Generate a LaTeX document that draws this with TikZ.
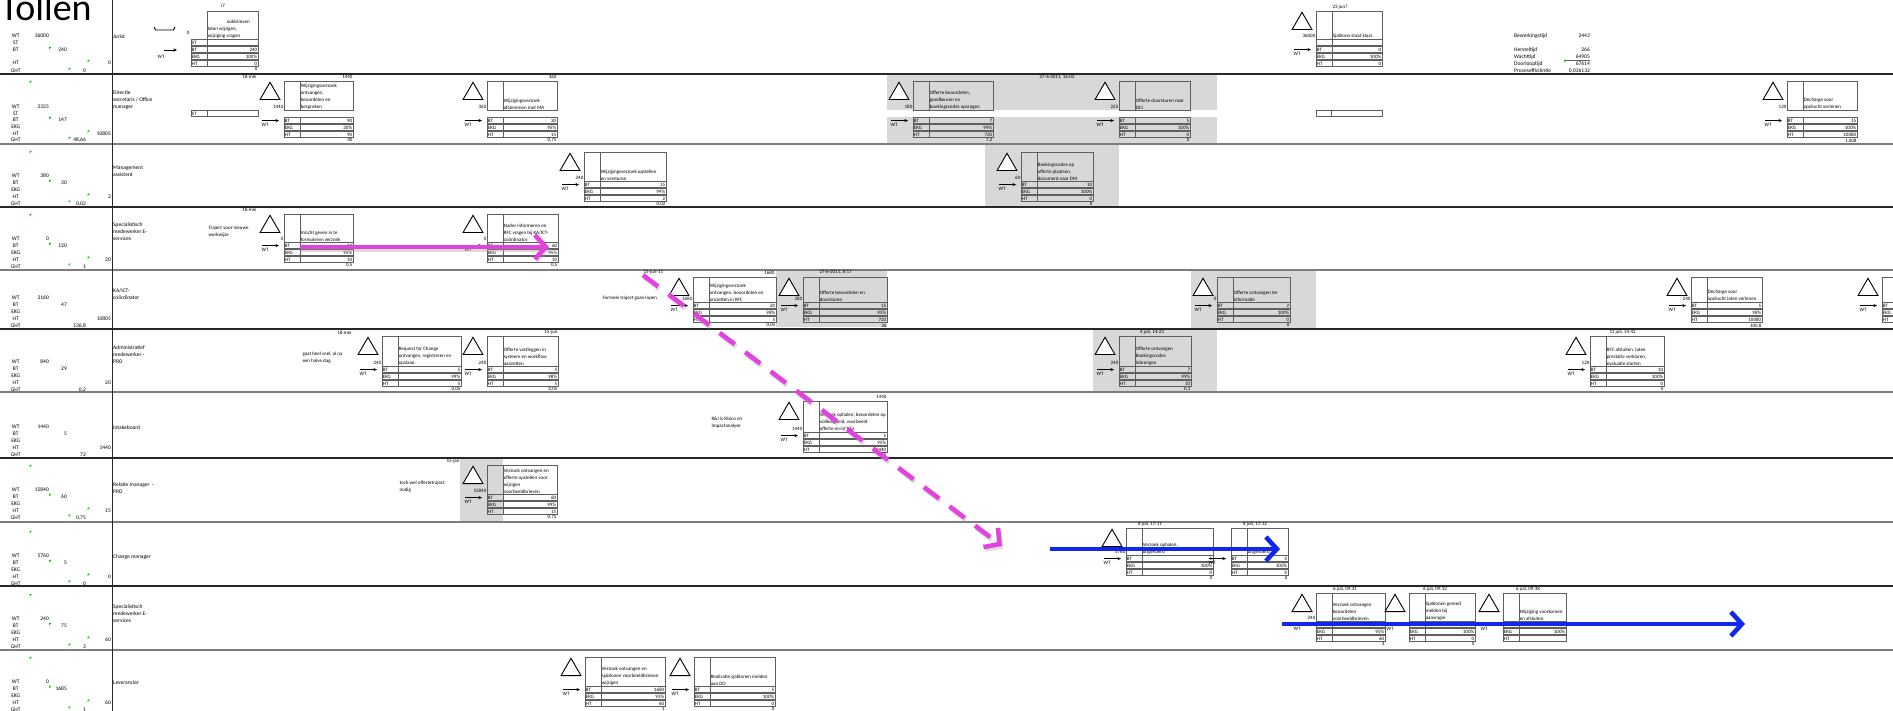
\documentclass[tikz,border=0pt]{standalone}
\usepackage{fontspec}
\setmainfont{Carlito}
\usetikzlibrary{arrows.meta,calc,shapes.geometric}

\definecolor{lanedark}{RGB}{40,40,40}
\definecolor{lanegrey}{RGB}{125,125,125}
\definecolor{cellgrey}{RGB}{216,216,216}
\definecolor{boxline}{RGB}{95,95,95}
\definecolor{xlgreen}{RGB}{20,170,20}
\definecolor{pinkarrow}{RGB}{226,66,222}
\definecolor{bluearrow}{RGB}{16,40,238}

\tikzset{
  lanedk/.style={draw=lanedark, line width=1.5pt},
  lanegr/.style={draw=lanegrey, line width=1.7pt},
  cellframe/.style={draw=boxline, line width=0.6pt},
  tinytxt/.style={font=\fontsize{5}{7}\selectfont, inner sep=0.3pt, align=left},
  lcol/.style={font=\fontsize{5.5}{7}\selectfont, inner sep=0pt, align=left},
  inv/.style={regular polygon, regular polygon sides=3, draw=black, line width=0.9pt,
    fill=white, minimum size=23pt, inner sep=0pt},
  wtarrow/.style={-{Stealth[length=3.6pt,width=3.2pt]}, line width=0.6pt},
  bigarrow/.style={line width=4.6pt, -{Straight Barb[length=11pt,width=24pt]}},
  shadowed/.style={draw=black!40, opacity=0.35, transform canvas={shift={(1.2,2.4)}}}
}

% settings for a process block
\def\blkdh{29}\def\blkgap{0}\def\blkst{0}\def\blkstlab{ST}\def\blkinv{1}
\def\blkparse#1,#2\relax{\def\bx{#1}\def\by{#2}}

% one table row of a block: name, label, value, top
\newcommand\blkrow[4]{%
  \draw[cellframe] (\bx,#4+0.4) rectangle (\bxr,#4+6.6);
  \draw[cellframe] (\bxd,#4+0.4) -- (\bxd,#4+6.6);
  \node[tinytxt, anchor=west] (#1) at (\bx+0.4,#4+3.6) {#2};
  \node[tinytxt, anchor=east] (#1v) at (\bxr-0.4,#4+3.6) {#3};
}

% [width] name, {x,y}, text, BT, EKG, HT, below, stock
\newcommand\blk[9][70]{%
  \blkparse#3\relax
  \pgfmathsetmacro\bxr{\bx+#1}\pgfmathsetmacro\bxd{\bx+16}%
  \pgfmathsetmacro\byd{\by+\blkdh}\pgfmathsetmacro\byt{\byd+\blkgap}%
  \draw[cellframe] (\bx,\by) rectangle (\bxr,\byd);
  \draw[cellframe] (\bxd,\by) -- (\bxd,\byd);
  \node[tinytxt, anchor=south west] (#2) at (\bxd+0.3,\byd-0.3) {#4};
  \ifnum\blkinv=1 \node[inv, anchor=south] (#2-i) at (\bx-14,\by+19) {};\fi
  \node[tinytxt, anchor=south east] (#2-n) at (\bx-0.2,\byd-0.6) {#9};
  \ifnum\blkst=1
    \blkrow{#2-st}{\blkstlab}{}{\byt}%
    \pgfmathsetmacro\byt{\byt+7}%
  \fi
  \blkrow{#2-bt}{BT}{#5}{\byt}%
  \pgfmathsetmacro\byr{\byt+7}\blkrow{#2-ekg}{EKG}{#6}{\byr}%
  \pgfmathsetmacro\byr{\byt+14}\blkrow{#2-ht}{HT}{#7}{\byr}%
  \node[tinytxt, anchor=north east] (#2-b) at (\bxr,\byt+21.2) {#8};
  \coordinate (#2-wa) at (\bx-22,\byt+3.6);
  \coordinate (#2-wb) at (\bx-5,\byt+3.6);
  \draw[wtarrow] (#2-wa) -- (#2-wb);
  \node[tinytxt, anchor=north] (#2-w) at (\bx-19,\byt+5.6) {WT};
}

% left column figures
\newcounter{lvc}
\def\xrWT{49}\def\xrST{49}\def\xrBT{67}\def\xrEKG{67}\def\xrHT{111}\def\xrGHT{86}
\newcommand\lv[3]{\stepcounter{lvc}%
  \node[lcol] (lk\arabic{lvc}) at (15.7,#1) {#2};
  \node[lcol, anchor=east] (lw\arabic{lvc}) at (\csname xr#2\endcsname,#1) {#3};}
\newcommand\gm[2]{\fill[xlgreen] (#1,#2) -- ++(2.4,0) -- ++(-2.4,2.4) -- cycle;}
\newcommand\lanevals[6]{%
  \lv{#1}{WT}{#2}\lv{#1+6.9}{BT}{#3}\lv{#1+13.8}{EKG}{}\lv{#1+20.7}{HT}{#4}\lv{#1+27.6}{GHT}{#5}%
  \ifnum#6=1 \gm{29.5}{#1-25}\gm{49}{#1+3.9}\gm{87.5}{#1+17.7}\gm{68.5}{#1+24.6}\fi}

\begin{document}
\begin{tikzpicture}[x=1pt,y=-1pt]
  \useasboundingbox (0,0) rectangle (1893,711);
  \clip (0,0) rectangle (1893,711);
  \fill[white] (0,0) rectangle (1893,711);

  % grey cells
  \fill[cellgrey] (887,75) rectangle (1217,110);
  \fill[cellgrey] (887,117) rectangle (1217,144);
  \fill[cellgrey] (985,145) rectangle (1119,207);
  \fill[cellgrey] (776,271) rectangle (887,327);
  \fill[cellgrey] (1191,271) rectangle (1316,328);
  \fill[cellgrey] (1093,330) rectangle (1217,392);
  \fill[cellgrey] (460,459) rectangle (503,522);

  % swimlanes
  \draw[lanedk] (0,74) -- (1893,74);
  \draw[lanegr] (0,144) -- (1893,144);
  \draw[lanedk] (0,207) -- (1893,207);
  \draw[lanegr] (0,270) -- (1893,270);
  \draw[lanedk] (0,329) -- (1893,329);
  \draw[lanegr] (0,392) -- (1893,392);
  \draw[lanedk] (0,458) -- (1893,458);
  \draw[lanegr] (0,522) -- (1893,522);
  \draw[lanedk] (0,586) -- (1893,586);
  \draw[lanegr] (0,650) -- (1893,650);
  \draw[draw=lanedark, line width=0.8pt] (112,0) -- (112,711);

  \node[font=\fontsize{38}{38}\selectfont, anchor=base west, inner sep=0pt] (title) at (0,21) {Tollen};

  % lane names
  \node[lcol, anchor=north west] (lane1) at (113,34.2) {Jurist};
  \node[lcol, anchor=north west] (lane2) at (113,90.2) {Directie\\secretaris / Office\\manager};
  \node[lcol, anchor=north west] (lane3) at (113,166.2) {Management\\assistent};
  \node[lcol, anchor=north west] (lane4) at (113,222.2) {Specialistisch\\medewerker E-\\services};
  \node[lcol, anchor=north west] (lane5) at (113,288.2) {KA/ICT-\\coördinator};
  \node[lcol, anchor=north west] (lane6) at (113,345.2) {Administratief\\medewerker -\\PRO};
  \node[lcol, anchor=north west] (lane7) at (113,425.2) {Intakeboard};
  \node[lcol, anchor=north west] (lane8) at (113,482.2) {Relatie manager \ -\\PRO};
  \node[lcol, anchor=north west] (lane9) at (113,554.2) {Change manager};
  \node[lcol, anchor=north west] (lane10) at (113,604.2) {Specialistisch\\medewerker E-\\services};
  \node[lcol, anchor=north west] (lane11) at (113,680.2) {Leverancier};

  % left column
  \lv{36}{WT}{36000}\lv{43}{ST}{}\lv{50}{BT}{240}\lv{63}{HT}{0}\lv{71}{GHT}{0}
  \gm{49}{47}\gm{87.5}{60}\gm{68.5}{68}
  \lv{107}{WT}{2325}\lv{113.5}{ST}{}\lv{120}{BT}{147}\lv{127}{EKG}{}\lv{133.5}{HT}{10805}\lv{140}{GHT}{48,66}
  \gm{29.5}{81}\gm{49}{117}\gm{87.5}{130.5}\gm{68.5}{137}
  \lanevals{176}{380}{30}{2}{0,02}{1}
  \lanevals{239}{0}{120}{20}{1}{1}
  \lanevals{298}{2160}{47}{10805}{136,8}{0}
  \lanevals{362}{840}{29}{20}{0,2}{0}
  \lanevals{427}{1440}{5}{1440}{72}{0}
  \lanevals{490}{15840}{60}{15}{0,75}{1}
  \lanevals{556}{5760}{5}{0}{0}{1}
  \lanevals{619}{240}{75}{60}{3}{1}
  \lanevals{682}{0}{1685}{60}{1}{1}

  % ---- lane 1: Jurist
  \draw[cellframe] (207,11) rectangle (258,39);
  \node[tinytxt, anchor=south west] (jur) at (207.3,38.7) {\hspace*{19pt}ookbrieven\\laten wijzigen,\\wijziging vragen};
  \node[tinytxt, anchor=south] (jur-top) at (223,8) {i7};
  \node[tinytxt, anchor=south east] (jur-n) at (190,35) {0};
  \draw[black, line width=0.9pt] (154,27) -- (155.5,30) -- (173.5,30) -- (175,27);
  \def\bx{191}\def\bxd{207}\def\bxr{258}
  \blkrow{jur-st}{ST}{}{39}\blkrow{jur-bt}{BT}{240}{46}\blkrow{jur-ekg}{EKG}{100\%}{53}\blkrow{jur-ht}{HT}{0}{60}
  \node[tinytxt, anchor=north east] (jur-b) at (258,67.2) {0};
  \coordinate (jur-wa) at (164,50); \coordinate (jur-wb) at (177,50);
  \draw[wtarrow] (jur-wa) -- (jur-wb);
  \node[tinytxt] (jur-w) at (161,57) {WT};

  \def\blkdh{28}\def\blkst{1}\def\blkstlab{}
  \blk[66]{sjab}{1316,11}{Sjabloon staat klaar}{0}{100\%}{0}{}{36000}
  \node[tinytxt, anchor=south west] (sjab-top) at (1332,9.5) {23 jun?};

  % result figures
  \node[lcol, anchor=west] (sum1) at (1514,36) {Bewerkingstijd};
  \node[lcol, anchor=east] (sum1v) at (1590,36) {2443};
  \node[lcol, anchor=west] (sum2) at (1514,50) {Hersteltijd};
  \node[lcol, anchor=east] (sum2v) at (1590,50) {266};
  \node[lcol, anchor=west] (sum3) at (1514,57) {Wachttijd};
  \node[lcol, anchor=east] (sum3v) at (1590,57) {64905};
  \node[lcol, anchor=west] (sum4) at (1514,64) {Doorlooptijd};
  \node[lcol, anchor=east] (sum4v) at (1590,64) {67614};
  \node[lcol, anchor=west] (sum5) at (1514,71) {Procesefficiëntie};
  \node[lcol, anchor=east] (sum5v) at (1590,71) {0,036132};
  \draw[boxline, line width=0.8pt] (1564,60.4) -- (1590,60.4);
  \gm{1564}{60}

  % ---- lane 2: Directie secretaris
  \def\bx{191}\def\bxd{207}\def\bxr{258}
  \blkrow{st2}{ST}{}{110}
  \def\bx{1316}\def\bxd{1331}\def\bxr{1382}
  \blkrow{st2b}{}{}{110}
  \def\blkdh{29}\def\blkgap{7}\def\blkst{0}
  \blk[69]{b21}{284,81}{Wijzigingsverzoek\\ontvangen,\\beoordelen en\\bespreken}{90}{20\%}{90}{40}{1440}
  \node[tinytxt, anchor=south east] (b21-d) at (257,79) {18-mei};
  \node[tinytxt, anchor=south east] (b21-t) at (353,79) {1440};
  \blk{b22}{487,81}{Wijzigingsverzoek\\afstemmen met MA}{30}{95\%}{15}{0,75}{360}
  \node[tinytxt, anchor=south east] (b22-t) at (557,79) {360};
  \blk[80]{b23}{913,81}{Offerte beoordelen,\\goedkeuren en\\boekingscodes opvragen}{7}{99\%}{720}{7,2}{180}
  \node[tinytxt] (b23-d) at (1057,77.5) {27-6-2011, 16:02};
  \blk[71]{b24}{1119,81}{Offerte doorsturen naar\\DCI}{5}{100\%}{0}{0}{225}
  \blk[70]{b25}{1787,81}{Decharge voor\\opdracht verlenen}{15}{100\%}{10080}{1,008}{120}

  % ---- lane 3: Management assistent
  \def\blkdh{29}\def\blkgap{0}
  \blk[82]{b31}{584,152}{Wijzigingsverzoek opstellen\\en versturen}{15}{99\%}{2}{0,02}{240}
  \blk[72]{b32}{1021,152}{Boekingscodes op\\offerte plaatsen,\\document naar DM}{10}{100\%}{0}{0}{60}

  % ---- lane 4: Specialistisch medewerker E-services
  \def\blkdh{28}
  \node[tinytxt, anchor=north west] (n4) at (208,225.5) {Traject voor nieuwe\\werkwijze};
  \blk[69]{b41}{284,214}{Inzicht geven in te\\formuleren verzoek}{10}{95\%}{10}{0,5}{0}
  \node[tinytxt, anchor=south east] (b41-d) at (257,212.5) {18-mei};
  \blk[71]{b42}{487,214}{Nader informeren en\\RFC vragen bij KA/ICT-\\coördinator}{60}{95\%}{10}{0,5}{0}

  % ---- lane 5: KA/ICT-coordinator
  \def\blkdh{25}
  \node[tinytxt, anchor=west] (n5) at (602,298) {Formele traject gaan lopen};
  \blk[83]{b51}{693,277}{Wijzigingsverzoek\\ontvangen, beoordelen en\\omzetten in RFC}{20}{98\%}{5}{0,05}{1680}
  \node[tinytxt, anchor=south west] (b51-d) at (643,275) {15-jun-11};
  \node[tinytxt, anchor=south east] (b51-t) at (775,275) {1680};
  \blk[84]{b52}{803,277}{Offerte beoordelen en\\doorsturen}{15}{95\%}{720}{36}{280}
  \node[tinytxt, anchor=south west] (b52-d) at (819,275) {27-6-2011, 8:17};
  \blk[73]{b53}{1217,277}{Offerte ontvangen ter\\informatie}{2}{100\%}{0}{0}{0}
  \blk[71]{b54}{1691,277}{Decharge voor\\opdracht laten verlenen}{5}{98\%}{10080}{100,8}{240}
  \blk[70]{b55}{1882,277}{}{}{}{}{}{}

  % ---- lane 6: Administratief medewerker PRO
  \def\blkdh{30}
  \node[tinytxt, anchor=north west] (n6) at (302,351.5) {gaat heel snel, al na\\een halve dag};
  \blk[79]{b61}{382,336}{Request for Change\\ontvangen, registreren en\\opslaan.}{5}{99\%}{5}{0,05}{240}
  \node[tinytxt, anchor=south east] (b61-d) at (352,335) {18-mei};
  \blk[71]{b62}{487,336}{Offerte vastleggen in\\systeem en workflow\\aanzetten}{5}{98\%}{5}{0,05}{240}
  \node[tinytxt, anchor=south east] (b62-d) at (558,335) {15-jun};
  \blk[72]{b63}{1119,336}{Offerte ontvangen\\Boekingscodes\\inbrengen}{7}{99\%}{10}{0,1}{240}
  \node[tinytxt, anchor=south] (b63-d) at (1152,335) {4 juli, 14:23};
  \blk[74]{b64}{1590,336}{RFC afsluiten, laten\\prestatie verklaren,\\evaluatie starten}{10}{100\%}{0}{0}{120}
  \node[tinytxt, anchor=south west] (b64-d) at (1609,335) {11 juli, 14:42};

  % ---- lane 7: Intakeboard
  \def\blkdh{31}
  \node[tinytxt, anchor=north west] (n7) at (711,416.5) {R\&I is Risico en\\Impactanalyse};
  \blk[84]{b71}{803,401}{Verzoek ophalen, beoordelen op\\volledigheid, voorbeeld\\offerte en/of R\&I}{5}{95\%}{1440}{72}{1440}
  \node[tinytxt, anchor=south east] (b71-t) at (887,399.5) {1440};

  % ---- lane 8: Relatie manager PRO
  \def\blkdh{29}
  \node[tinytxt, anchor=north west] (n8) at (399,480.5) {toch wel offertetraject\\nodig};
  \blk[70]{b81}{487,465}{Verzoek ontvangen en\\offerte opstellen voor\\wijzigen\\voorbeeldbrieven}{60}{99\%}{15}{0,75}{15840}
  \node[tinytxt, anchor=south east] (b81-d) at (460,463.5) {15-jan};

  % ---- lane 9: Change manager
  \def\blkdh{27}
  \blk[87]{b91}{1126,528}{Verzoek ophalen,\\uitgevoerd}{5}{100\%}{0}{0}{5760}
  \node[tinytxt, anchor=south] (b91-d) at (1150,526.5) {8 juli, 17:11};
  \def\blkinv{0}
  \blk[57]{b92}{1231,528}{uitgevoerd}{0}{100\%}{0}{0}{}
  \node[tinytxt, anchor=south] (b92-d) at (1255,526.5) {8 juli, 17:12};
  \def\blkinv{1}

  % ---- lane 10: Specialistisch medewerker E-services
  \def\blkdh{28}
  \blk[69]{b101}{1316,593}{Verzoek ontvangen\\beoordelen\\voorbeeldbrieven}{}{95\%}{60}{3}{240}
  \node[tinytxt, anchor=south] (b101-d) at (1345,591.5) {6 juli, 09:31};
  \blk[66]{b102}{1409,593}{Sjablonen gereed\\melden bij\\aanvrager}{}{100\%}{0}{0}{}
  \node[tinytxt, anchor=south] (b102-d) at (1435,591.5) {6 juli, 09:32};
  \blk[63]{b103}{1503,593}{Wijziging voorkomen\\en afsluiten}{}{100\%}{}{}{}
  \node[tinytxt, anchor=south] (b103-d) at (1528,591.5) {6 juli, 09:38};

  % ---- lane 11: Leverancier
  \def\blkdh{29}
  \blk[80]{b111}{585,657}{Verzoek ontvangen en\\sjablonen voorbeeldbrieven\\wijzigen}{1680}{95\%}{60}{1}{}
  \blk[81]{b112}{694,657}{Realisatie sjablonen melden\\aan DO}{5}{100\%}{0}{0}{}

  % ---- big arrows
  \coordinate (pinkA) at (300,247); \coordinate (pinkB) at (549,247);
  \coordinate (dashA) at (643,275); \coordinate (dashB) at (1002,546);
  \coordinate (blueA) at (1050,549); \coordinate (blueB) at (1280,549);
  \coordinate (blueC) at (1282,624); \coordinate (blueD) at (1745,624);
  \draw[bigarrow, shadowed] (pinkA) -- (pinkB);
  \draw[bigarrow, shadowed, dash pattern=on 19pt off 13pt] (dashA) -- (dashB);
  \draw[bigarrow, draw=pinkarrow] (pinkA) -- (pinkB);
  \draw[bigarrow, draw=pinkarrow, dash pattern=on 19pt off 13pt] (dashA) -- (dashB);
  \draw[bigarrow, draw=bluearrow] (blueA) -- (blueB);
  \draw[bigarrow, draw=bluearrow] (blueC) -- (blueD);
\end{tikzpicture}
\end{document}
